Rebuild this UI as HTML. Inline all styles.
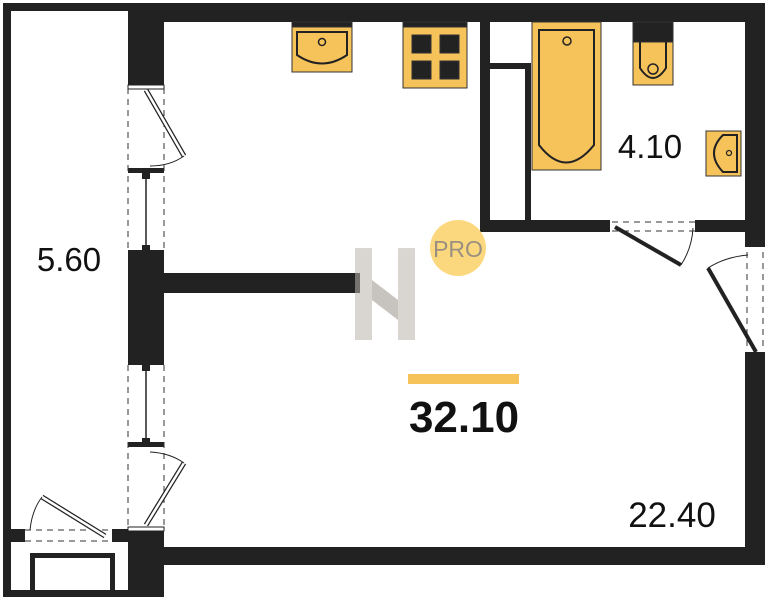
<!DOCTYPE html>
<html><head><style>body{margin:0;background:#fff}svg{display:block}</style></head><body>
<svg width="769" height="600" viewBox="0 0 769 600" xmlns="http://www.w3.org/2000/svg" font-family="Liberation Sans, sans-serif">
<rect width="769" height="600" fill="#fff"/>
<g fill="#222">
<rect x="3" y="3" width="8" height="594"/>
<rect x="3" y="3" width="130" height="8"/>
<rect x="3" y="590" width="161" height="7"/>
<rect x="128" y="3" width="637" height="19"/>
<rect x="128" y="3" width="36" height="82"/>
<rect x="128" y="252" width="36" height="109"/>
<rect x="128" y="530" width="36" height="67"/>
<rect x="128" y="168" width="36" height="5"/>
<rect x="128" y="442" width="36" height="5"/>
<rect x="128" y="250" width="36" height="4"/>
<rect x="128" y="361" width="36" height="4"/>
<rect x="142" y="173" width="8" height="6"/><rect x="142" y="245" width="8" height="6"/>
<rect x="142" y="365" width="8" height="6"/><rect x="142" y="438" width="8" height="6"/>
<rect x="164" y="273" width="196" height="20"/>
<rect x="164" y="547" width="601" height="18"/>
<rect x="745" y="3" width="20" height="244"/>
<rect x="745" y="352" width="20" height="213"/>
<rect x="480" y="22" width="10" height="210"/>
<rect x="480" y="220" width="130" height="12"/>
<rect x="695" y="220" width="50" height="12"/>
<rect x="525" y="63" width="6" height="157"/>
<rect x="490" y="63" width="37" height="6"/>
<rect x="11" y="529" width="14" height="13"/>
<rect x="112" y="529" width="16" height="13"/>
<rect x="30" y="553" width="85" height="5"/>
<rect x="30" y="553" width="5" height="37"/>
<rect x="110" y="553" width="5" height="37"/>
</g>
<g stroke="#333" stroke-width="1" stroke-dasharray="6,5" fill="none">
<line x1="128" y1="88" x2="128" y2="250"/><line x1="164" y1="88" x2="164" y2="250"/>
<line x1="128" y1="365" x2="128" y2="528"/><line x1="164" y1="365" x2="164" y2="528"/>
<line x1="25" y1="530" x2="112" y2="530"/><line x1="25" y1="541" x2="112" y2="541"/>
<line x1="612" y1="222" x2="695" y2="222"/><line x1="612" y1="231" x2="695" y2="231"/>
<line x1="747" y1="252" x2="747" y2="350"/><line x1="763" y1="252" x2="763" y2="350"/>
</g>
<g stroke="#222" fill="none">
<rect x="128" y="85" width="36" height="4" fill="#fff" stroke-width="1"/>
<rect x="128" y="527" width="36" height="4" fill="#fff" stroke-width="1"/>
<line x1="146" y1="179" x2="146" y2="245" stroke-width="1.5"/>
<line x1="146" y1="371" x2="146" y2="438" stroke-width="1.5"/>
<path d="M146 90 L184 156" stroke-width="5"/><path d="M146 90 L184 156" stroke="#fff" stroke-width="2.5"/>
<path d="M184 156 Q170 166 150 166" stroke-width="1"/>
<path d="M146 525 L184 463" stroke-width="5"/><path d="M146 525 L184 463" stroke="#fff" stroke-width="2.5"/>
<path d="M184 463 Q170 453 150 452" stroke-width="1"/>
<path d="M105 536 L42 497" stroke-width="5"/><path d="M105 536 L42 497" stroke="#fff" stroke-width="2.5"/>
<path d="M42 497 Q32 510 30 530" stroke-width="1"/>
<path d="M615 227 L681 265" stroke-width="4"/>
<path d="M681 265 Q692 248 693 228" stroke-width="1"/>
<path d="M756 352 L708 268" stroke-width="4"/>
<path d="M708 268 Q725 257 748 255" stroke-width="1"/>
</g>
<g stroke="#333" stroke-width="1">
<rect x="292" y="22" width="60" height="50" fill="#f6c25a"/>
<rect x="292" y="22" width="60" height="5" fill="#222"/>
<path d="M297 32 H347 V55 Q322 72 297 55 Z" fill="none" stroke="#222" stroke-width="2"/>
<circle cx="322" cy="42" r="3.5" fill="none" stroke="#222" stroke-width="1.5"/>
<rect x="403" y="22" width="64" height="66" fill="#f6c25a"/>
<rect x="403" y="22" width="64" height="5" fill="#222"/>
<rect x="412" y="35" width="19" height="18" fill="#222"/><rect x="440" y="35" width="19" height="18" fill="#222"/>
<rect x="412" y="61" width="19" height="18" fill="#222"/><rect x="440" y="61" width="19" height="18" fill="#222"/>
<rect x="532" y="22" width="69" height="148" fill="#f6c25a"/>
<path d="M539 30 H594 V145 Q566 180 539 145 Z" fill="none" stroke="#222" stroke-width="2"/>
<circle cx="567" cy="41" r="4" fill="none" stroke="#222" stroke-width="1.5"/>
<rect x="633" y="22" width="40" height="63" fill="#f6c25a"/>
<rect x="633" y="22" width="40" height="20" fill="#222"/>
<path d="M640 42 V68 Q653 88 666 68 V42" fill="none" stroke="#222" stroke-width="2"/>
<circle cx="653" cy="69" r="5" fill="none" stroke="#222" stroke-width="1.5"/>
<rect x="706" y="131" width="35" height="45" fill="#f6c25a"/>
<path d="M737 135 V172 H723 Q705 153 723 135 Z" fill="none" stroke="#222" stroke-width="2"/>
<circle cx="729" cy="153" r="2.5" fill="none" stroke="#222" stroke-width="1.2"/>
</g>
<g opacity="0.55">
<rect x="355" y="248" width="17" height="92" fill="#bbb5ad"/>
<rect x="398" y="248" width="17" height="92" fill="#bbb5ad"/>
<polygon points="372,280 398,300 398,320 372,300" fill="#9a938a"/>
</g>
<circle cx="458" cy="248" r="28" fill="#fbd87e"/>
<text x="458" y="257" text-anchor="middle" font-size="23" fill="#9a9080">PRO</text>
<rect x="408" y="374" width="111" height="10" fill="#f6c25a"/>
<text x="464" y="432" text-anchor="middle" font-size="44" font-weight="bold" fill="#111">32.10</text>
<text x="672" y="527" text-anchor="middle" font-size="35" fill="#111">22.40</text>
<text x="69" y="271" text-anchor="middle" font-size="33" fill="#111">5.60</text>
<text x="650" y="158" text-anchor="middle" font-size="33" fill="#111">4.10</text>
</svg>
</body></html>
